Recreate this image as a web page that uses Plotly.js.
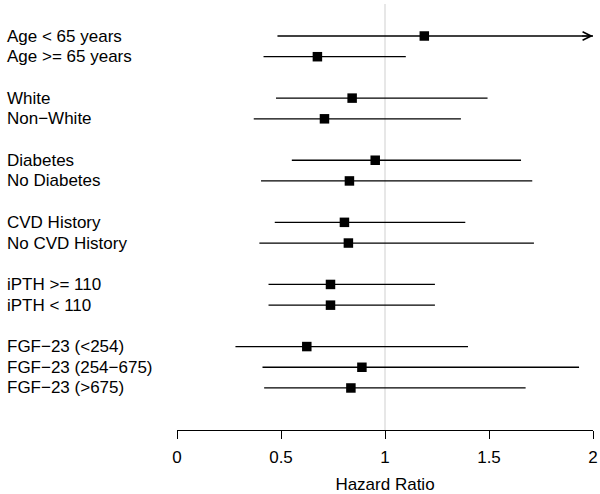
<!DOCTYPE html>
<html>
<head>
<meta charset="utf-8">
<script src="https://cdn.plot.ly/plotly-3.0.1.min.js"></script>
<style>html,body{margin:0;padding:0;background:#fff;}#chart{width:600px;height:494px;}</style>
</head>
<body>
<div id="chart"></div>
<script>
// Subgroup labels (top to bottom)
const labels = [
  "Age < 65 years", "Age >= 65 years",
  "White", "Non\u2212White",
  "Diabetes", "No Diabetes",
  "CVD History", "No CVD History",
  "iPTH >= 110", "iPTH < 110",
  "FGF\u221223 (<254)", "FGF\u221223 (254\u2212675)", "FGF\u221223 (>675)"
];
// Row index of each subgroup (blank rows separate groups)
const rows = [0, 1, 3, 4, 6, 7, 9, 10, 12, 13, 15, 16, 17];
// Hazard ratio point estimates
const hr    = [1.189, 0.675, 0.842, 0.709, 0.953, 0.829, 0.805, 0.824, 0.738, 0.738, 0.624, 0.889, 0.836];
// 95% CI lower bounds
const lower = [0.483, 0.416, 0.476, 0.369, 0.552, 0.404, 0.470, 0.396, 0.440, 0.440, 0.281, 0.411, 0.419];
// 95% CI upper bounds (first one runs off the axis, estimated)
const upper = [2.60, 1.100, 1.493, 1.365, 1.654, 1.708, 1.386, 1.716, 1.240, 1.240, 1.399, 1.933, 1.676];
// X axis ticks
const xTicks = [0, 0.5, 1, 1.5, 2];
const xTickText = ["0", "0.5", "1", "1.5", "2"];
const xMin = 0, xMax = 2;

const FONT = "Liberation Sans, Arial, Helvetica, sans-serif";

// CI segments
const segX = [], segY = [];
for (let i = 0; i < rows.length; i++) {
  segX.push(lower[i], Math.min(upper[i], xMax), null);
  segY.push(rows[i], rows[i], null);
}

const traces = [
  {
    type: "scatter", mode: "lines", x: segX, y: segY,
    line: {color: "#000000", width: 1.3},
    hoverinfo: "skip", showlegend: false, cliponaxis: false
  },
  {
    type: "scatter", mode: "markers", x: hr, y: rows,
    marker: {symbol: "square", size: 9.5, color: "#000000"},
    showlegend: false, cliponaxis: false
  }
];

const annotations = labels.map((t, i) => ({
  text: t, xref: "paper", x: -0.4135, xanchor: "left",
  yref: "y", y: rows[i], yanchor: "middle",
  showarrow: false, font: {family: FONT, size: 17, color: "#000"}
}));

// arrows for CIs extending beyond the axis
for (let i = 0; i < rows.length; i++) {
  if (upper[i] > xMax) {
    annotations.push({
      text: "", xref: "x", yref: "y", x: xMax, y: rows[i],
      axref: "x", ayref: "y", ax: xMax - 0.06, ay: rows[i],
      showarrow: true, arrowhead: 5, arrowsize: 1.4, arrowwidth: 1.2,
      arrowcolor: "#000000", standoff: 0
    });
  }
}

const layout = {
  width: 600, height: 494,
  margin: {l: 177, r: 7, t: 20, b: 64},
  paper_bgcolor: "#fff", plot_bgcolor: "#fff",
  font: {family: FONT, size: 17, color: "#000"},
  xaxis: {
    range: [xMin, xMax], tickvals: xTicks, ticktext: xTickText,
    showgrid: false, zeroline: false, showline: true,
    linecolor: "#000", linewidth: 1,
    ticks: "outside", ticklen: 8, tickcolor: "#000", tickwidth: 1,
    ticklabelstandoff: 4,
    tickfont: {family: FONT, size: 17, color: "#000"},
    title: {text: "Hazard Ratio", font: {family: FONT, size: 17, color: "#000"}, standoff: 11}
  },
  yaxis: {
    range: [19.03, -0.773], visible: false, showgrid: false, zeroline: false, fixedrange: true
  },
  shapes: [{
    type: "line", xref: "x", yref: "paper", x0: 1, x1: 1, y0: 0, y1: 1.039,
    line: {color: "#cfcfcf", width: 1}, layer: "below"
  }],
  annotations: annotations
};

Plotly.newPlot("chart", traces, layout, {staticPlot: true, displayModeBar: false});
</script>
</body>
</html>
